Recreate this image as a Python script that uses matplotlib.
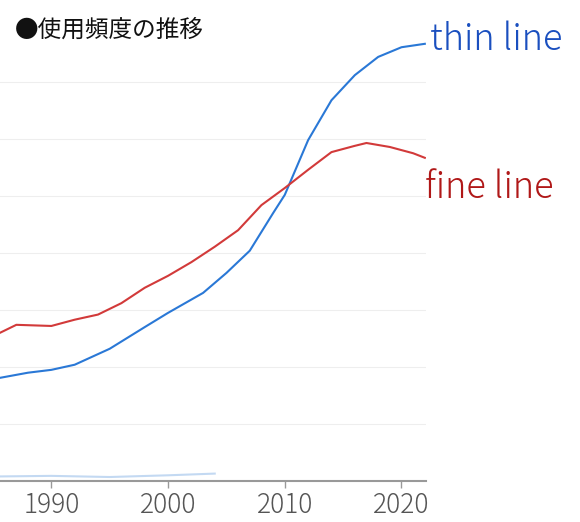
import matplotlib
matplotlib.use("Agg")
import matplotlib.pyplot as plt
import numpy as np

plt.rcParams['font.family'] = ['Noto Sans CJK JP', 'DejaVu Sans']

# values in grid units (one gridline per unit)
thin_years = [1985.6, 1988, 1990, 1992, 1995, 1998, 2000, 2003, 2005, 2007, 2009, 2010, 2012, 2014, 2016, 2018, 2020, 2022]
thin_vals = [1.81, 1.90, 1.95, 2.04, 2.32, 2.70, 2.95, 3.30, 3.65, 4.04, 4.70, 5.02, 5.98, 6.68, 7.12, 7.44, 7.61, 7.67]
fine_years = [1985.6, 1987, 1990, 1992, 1994, 1996, 1998, 2000, 2002, 2004, 2006, 2008, 2010, 2012, 2014, 2016, 2017, 2019, 2021, 2022]
fine_vals = [2.60, 2.74, 2.72, 2.83, 2.92, 3.12, 3.39, 3.60, 3.84, 4.11, 4.40, 4.84, 5.14, 5.46, 5.77, 5.88, 5.93, 5.86, 5.75, 5.67]
faint_years = [1985.6, 1990, 1995, 2000, 2004]
faint_vals = [0.08, 0.09, 0.07, 0.10, 0.13]

fig = plt.figure(figsize=(5.8, 5.22), dpi=100)
ax = fig.add_axes([0, 41 / 522, 426 / 580, 481 / 522])

ax.plot(thin_years, thin_vals, color="#2a78d6", lw=1.5)
ax.plot(fine_years, fine_vals, color="#d23a3a", lw=1.5)
ax.plot(faint_years, faint_vals, color="#9cc0ea", lw=1.5, alpha=0.6)

ax.set_xlim(1985.6, 2022.1)
ax.set_ylim(0, 481 / 57)
ax.set_yticks(range(1, 8))
ax.grid(axis="y", color="#eeeeee", lw=0.8)
ax.tick_params(axis="y", left=False, labelleft=False)
ax.set_xticks([1990, 2000, 2010, 2020])
ax.tick_params(axis="x", colors="#999999", labelcolor="#555555", labelsize=19, length=5, width=1, pad=2)
for lab in ax.get_xticklabels():
    lab.set_fontweight("light")
for s in ["top", "right", "left"]:
    ax.spines[s].set_visible(False)
ax.spines["bottom"].set_color("#999999")
ax.spines["bottom"].set_linewidth(1.5)

fig.text(15 / 580, 1 - 30 / 522, "●使用頻度の推移", fontsize=17, va="center", color="#111111")
fig.text(430 / 580, 1 - 40 / 522, "thin line", fontsize=26, color="#1a4fbf", va="center", fontweight="light")
fig.text(425 / 580, 1 - 188 / 522, "fine line", fontsize=26, color="#b01818", va="center", fontweight="light")

fig.savefig("out.png", dpi=100)
